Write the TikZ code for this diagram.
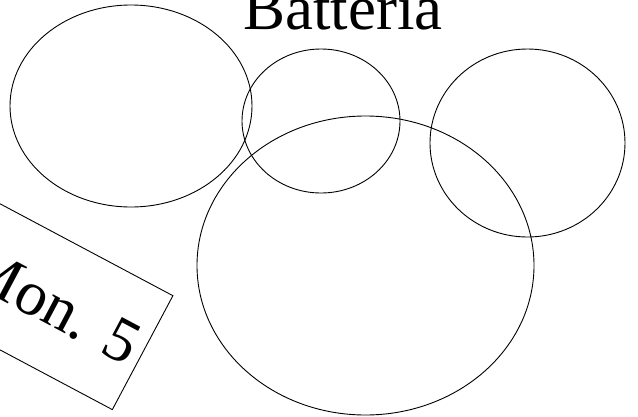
\documentclass[tikz,border=0pt]{standalone}
\usepackage{fontspec}
\setmainfont{Liberation Serif}
\usepackage{tikz}
\usetikzlibrary{shapes.geometric}

\begin{document}
\begin{tikzpicture}[x=1pt,y=1pt,blob/.style={draw,ellipse,inner sep=0pt,line width=0.9pt},label/.style={font=\fontsize{63}{70}\selectfont,inner sep=0pt},tag/.style={draw,line width=0.9pt,rotate=-28,minimum width=203pt,minimum height=129pt,inner sep=0pt,font=\fontsize{63}{70}\selectfont}]
\useasboundingbox (0,0) rectangle (638,-416);
\clip (0,0) rectangle (638,-416);
\node[blob,minimum width=242pt,minimum height=202pt] (L) at (131,-106) {};
\node[blob,minimum width=158pt,minimum height=144pt] (S) at (321,-121) {};
\node[blob,minimum width=195pt,minimum height=188pt] (R) at (527.5,-143) {};
\node[blob,minimum width=337pt,minimum height=299pt] (B) at (365.5,-265.5) {};
\node[label,anchor=base] (T) at (343,-29) {Batteria};
\node[tag] (M) at (53,-305) {Mon. 5};
\end{tikzpicture}
\end{document}
